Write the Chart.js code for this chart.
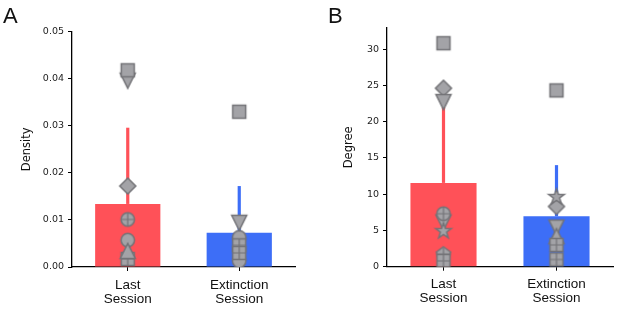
<!DOCTYPE html>
<html>
<head>
<meta charset="utf-8">
<script src="https://cdn.jsdelivr.net/npm/chart.js@4.4.1/dist/chart.umd.min.js"></script>
<style>
    html, body { margin: 0; padding: 0; background: #fff; }
    #wrap { position: relative; width: 617px; height: 309px; overflow: hidden; }
    .panel { position: absolute; top: 0; }
    .letter { position: absolute; font-family: "Liberation Sans", Arial, sans-serif; font-size: 22px; line-height: 22px; color: #111; }
</style>
</head>
<body>
<div id="wrap">
    <canvas id="chartA" class="panel" width="308" height="309" style="left:0px"></canvas>
    <canvas id="chartB" class="panel" width="309" height="309" style="left:308px"></canvas>
    <div class="letter" style="left:3px; top:5px">A</div>
    <div class="letter" style="left:328px; top:5px">B</div>
</div>
<script>
(function (window) {

    var categories = [['Last', 'Session'], ['Extinction', 'Session']];

    // panel A - density
    var densityMean = [0.0134, 0.0073];
    var densityErr = [0.0162, 0.0099];
    var densityLast = [0.0396, 0.0418, 0.0172, 0.0101, 0.0057, 0.0017, 0.0034];
    var densityLastMarks = ['triDown', 'square', 'diamond', 'circlePlus', 'circle', 'squarePlus', 'triUp'];
    var densityExt = [0.0330, 0.0063, 0.0013, 0.0046, 0.0030, 0.0094];
    var densityExtMarks = ['square', 'circle', 'circle', 'squarePlus', 'squarePlus', 'triDown'];
    var densityTicks = [0, 0.01, 0.02, 0.03, 0.04, 0.05];

    // panel B - degree
    var degreeMean = [11.55, 6.95];
    var degreeErr = [10.45, 7.05];
    var degreeLast = [30.8, 24.6, 22.7, 6.1, 7.3, 4.9, 1.7, 0.8];
    var degreeLastMarks = ['square', 'diamond', 'triDown', 'triDown', 'circlePlus', 'star', 'pentagonPlus', 'squarePlus'];
    var degreeExt = [24.3, 8.3, 9.6, 5.4, 4.2, 3.0, 1.0];
    var degreeExtMarks = ['square', 'diamond', 'star', 'triDown', 'triUp', 'squarePlus', 'squarePlus'];
    var degreeTicks = [0, 5, 10, 15, 20, 25, 30];

    var barColors = ['#ff5158', '#3d6ef7'];
    var markerFill = '#a3a3a7';
    var markerEdge = '#737377';

    function makeMarker(kind) {
        var c = document.createElement('canvas');
        c.width = 22;
        c.height = 22;
        var g = c.getContext('2d');
        g.translate(11, 11);
        g.fillStyle = markerFill;
        g.strokeStyle = markerEdge;
        g.lineWidth = 1.5;
        g.beginPath();
        var base = kind.replace('Plus', '');
        var i, a, r;
        if (base === 'square') {
            g.rect(-6.5, -6.5, 13, 13);
        } else if (base === 'circle') {
            g.arc(0, 0, 6.7, 0, Math.PI * 2);
        } else if (base === 'triDown') {
            g.moveTo(-7.5, -7.5); g.lineTo(7.5, -7.5); g.lineTo(0, 7.5); g.closePath();
        } else if (base === 'triUp') {
            g.moveTo(-7.5, 7.5); g.lineTo(7.5, 7.5); g.lineTo(0, -7.5); g.closePath();
        } else if (base === 'diamond') {
            g.moveTo(0, -8); g.lineTo(8, 0); g.lineTo(0, 8); g.lineTo(-8, 0); g.closePath();
        } else if (base === 'star') {
            for (i = 0; i < 10; i++) {
                a = -Math.PI / 2 + i * Math.PI / 5;
                r = i % 2 ? 3.3 : 8.2;
                if (i === 0) g.moveTo(r * Math.cos(a), r * Math.sin(a));
                else g.lineTo(r * Math.cos(a), r * Math.sin(a));
            }
            g.closePath();
        } else if (base === 'pentagon') {
            for (i = 0; i < 5; i++) {
                a = -Math.PI / 2 + i * 2 * Math.PI / 5;
                if (i === 0) g.moveTo(7.5 * Math.cos(a), 7.5 * Math.sin(a));
                else g.lineTo(7.5 * Math.cos(a), 7.5 * Math.sin(a));
            }
            g.closePath();
        }
        g.fill();
        g.stroke();
        if (kind.indexOf('Plus') > 0) {
            g.lineWidth = 1.2;
            g.beginPath();
            g.moveTo(-6.5, 0); g.lineTo(6.5, 0);
            g.moveTo(0, -6.5); g.lineTo(0, 6.5);
            g.stroke();
        }
        return c;
    }

    var errorBars = {
        id: 'errorBars',
        afterDatasetDraw: function (chart, args, opts) {
            if (args.index !== 0) {
                return;
            }
            var ctx = chart.ctx;
            var yScale = chart.scales.y;
            var means = chart.data.datasets[0].data;
            chart.getDatasetMeta(0).data.forEach(function (bar, i) {
                ctx.save();
                ctx.strokeStyle = barColors[i];
                ctx.lineWidth = 3.2;
                ctx.beginPath();
                ctx.moveTo(bar.x, yScale.getPixelForValue(means[i]));
                ctx.lineTo(bar.x, yScale.getPixelForValue(means[i] + opts.errs[i]));
                ctx.stroke();
                ctx.restore();
            });
        }
    };

    // x is the category label itself so the category scale finds it
    function pointSet(label, values, marks) {
        return {
            type: 'line',
            data: values.map(function (v) { return { x: label, y: v }; }),
            showLine: false,
            pointStyle: marks.map(makeMarker),
            pointRadius: 3,
            pointHoverRadius: 3,
            order: 1
        };
    }

    function makePanel(id, p) {
        var ctx = document.getElementById(id);
        return new Chart(ctx.getContext('2d'), {
            type: 'bar',
            data: {
                labels: categories,
                datasets: [
                    {
                        data: p.mean,
                        backgroundColor: barColors,
                        barPercentage: 0.585,
                        categoryPercentage: 1,
                        order: 2
                    },
                    pointSet(categories[0], p.last, p.lastMarks),
                    pointSet(categories[1], p.ext, p.extMarks)
                ]
            },
            plugins: [errorBars],
            options: {
                responsive: false,
                animation: false,
                events: [],
                layout: { padding: { top: p.top, right: p.right, left: 0, bottom: 0 } },
                plugins: {
                    legend: { display: false },
                    tooltip: { enabled: false },
                    errorBars: { errs: p.err }
                },
                scales: {
                    x: {
                        grid: { drawOnChartArea: false, offset: false, tickLength: 4, color: '#000' },
                        border: { color: '#000', width: 1.3 },
                        ticks: {
                            color: '#111',
                            padding: 7,
                            maxRotation: 0,
                            font: { family: '"Liberation Sans", Arial, sans-serif', size: 13.5, lineHeight: 1.04 }
                        },
                        afterFit: function (scale) { scale.height = p.xHeight; }
                    },
                    y: {
                        min: 0,
                        max: p.max,
                        afterBuildTicks: function (scale) {
                            scale.ticks = p.ticks.map(function (v) { return { value: v }; });
                        },
                        grid: { drawOnChartArea: false, tickLength: 4, color: '#000' },
                        border: { color: '#000', width: 1.3 },
                        ticks: {
                            color: '#222',
                            padding: 4,
                            font: { family: '"DejaVu Sans", sans-serif', size: 9.5 },
                            callback: p.fmt
                        },
                        title: {
                            display: true,
                            text: p.title,
                            color: '#111',
                            padding: { top: p.titlePad, bottom: 0 },
                            font: { family: '"DejaVu Sans", sans-serif', size: 11.5 }
                        },
                        afterFit: function (scale) { scale.width = p.yWidth; }
                    }
                }
            }
        });
    }

    makePanel('chartA', {
        mean: densityMean, err: densityErr,
        last: densityLast, lastMarks: densityLastMarks,
        ext: densityExt, extMarks: densityExtMarks,
        ticks: densityTicks, max: 0.05, title: 'Density',
        fmt: function (v) { return v.toFixed(2); },
        top: 31.7, right: 13, yWidth: 72, xHeight: 42, titlePad: 19.8
    });

    makePanel('chartB', {
        mean: degreeMean, err: degreeErr,
        last: degreeLast, lastMarks: degreeLastMarks,
        ext: degreeExt, extMarks: degreeExtMarks,
        ticks: degreeTicks, max: 32.9, title: 'Degree',
        fmt: function (v) { return String(v); },
        top: 28, right: 4, yWidth: 79, xHeight: 42.3, titlePad: 33.8
    });

})(window);
</script>
</body>
</html>
